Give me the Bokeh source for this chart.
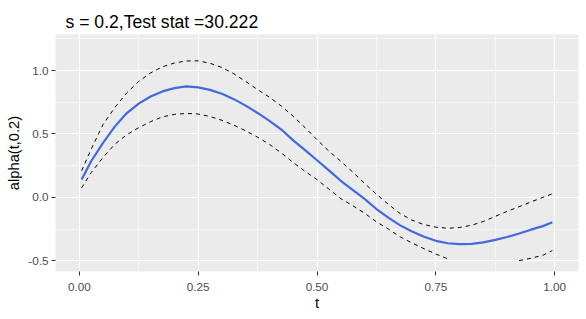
import math
from bokeh.plotting import figure
from bokeh.models import FixedTicker, Range1d, ColumnDataSource
from bokeh.embed import file_html
from bokeh.resources import INLINE

NaN = float("nan")

# ---- data ----
t = [0.005, 0.025, 0.05, 0.075, 0.1, 0.125, 0.15, 0.175, 0.2, 0.225,
     0.25, 0.275, 0.3, 0.325, 0.35, 0.375, 0.4, 0.425, 0.45, 0.475,
     0.5, 0.525, 0.55, 0.575, 0.6, 0.625, 0.65, 0.675, 0.7, 0.725,
     0.75, 0.775, 0.8, 0.825, 0.85, 0.875, 0.9, 0.925, 0.95, 0.975, 0.995]

alpha_hat = [0.14, 0.285, 0.43, 0.56, 0.665, 0.74, 0.796, 0.836, 0.862, 0.875,
             0.868, 0.848, 0.818, 0.775, 0.724, 0.666, 0.603, 0.535, 0.45, 0.372,
             0.293, 0.213, 0.131, 0.06, -0.012, -0.092, -0.16, -0.221, -0.27, -0.311,
             -0.343, -0.362, -0.369, -0.367, -0.355, -0.336, -0.313, -0.285, -0.255, -0.227, -0.197]

upper = [0.21, 0.38, 0.575, 0.71, 0.825, 0.915, 0.982, 1.03, 1.06, 1.076,
         1.077, 1.058, 1.025, 0.975, 0.915, 0.85, 0.79, 0.72, 0.64, 0.55,
         0.455, 0.365, 0.285, 0.2, 0.11, 0.025, -0.055, -0.128, -0.18, -0.215,
         -0.235, -0.244, -0.238, -0.22, -0.19, -0.15, -0.11, -0.074, -0.036, 0.0, 0.028]

# values below the y limit (-0.5) were dropped in the original chart
lower = [0.075, 0.195, 0.315, 0.42, 0.495, 0.55, 0.597, 0.635, 0.655, 0.662,
         0.658, 0.638, 0.608, 0.57, 0.525, 0.475, 0.418, 0.35, 0.275, 0.205,
         0.14, 0.065, -0.01, -0.065, -0.125, -0.193, -0.25, -0.312, -0.36, -0.405,
         -0.447, -0.485, NaN, NaN, NaN, NaN, NaN, -0.499, -0.48, -0.457, -0.42]

x_ticks = [0.0, 0.25, 0.5, 0.75, 1.0]
x_tick_labels = ["0.00", "0.25", "0.50", "0.75", "1.00"]
x_minor = [0.125, 0.375, 0.625, 0.875]
y_ticks = [-0.5, 0.0, 0.5, 1.0]
y_tick_labels = ["-0.5", "0.0", "0.5", "1.0"]
y_minor = [-0.25, 0.25, 0.75, 1.25]

title_text = "s = 0.2,Test stat =30.222"
x_label = "t"
y_label = "alpha(t,0.2)"

x_lim = (-0.05, 1.05)
y_lim = (-0.585, 1.285)

src = ColumnDataSource(dict(t=t, a=alpha_hat, up=upper, lo=lower))

FONT = "Liberation Sans"

p = figure(width=586, height=319, output_backend="svg", toolbar_location=None,
           x_range=Range1d(*x_lim), y_range=Range1d(*y_lim),
           title=title_text,
           min_border_left=55, min_border_right=8, min_border_top=34, min_border_bottom=48)

p.title.text_font = FONT
p.title.text_font_size = "17.6px"
p.title.text_font_style = "normal"
p.title.text_color = "black"
p.title.standoff = 6
p.title.offset = 10

p.background_fill_color = "#EBEBEB"
p.border_fill_color = "white"
p.outline_line_color = None

p.line("t", "up", source=src, line_color="black", line_width=1, line_dash="4 4")
p.line("t", "lo", source=src, line_color="black", line_width=1, line_dash="4 4")
p.line("t", "a", source=src, line_color="#4169E1", line_width=2.2)

p.xaxis.ticker = FixedTicker(ticks=x_ticks, minor_ticks=x_minor)
p.yaxis.ticker = FixedTicker(ticks=y_ticks, minor_ticks=y_minor)
p.xaxis.major_label_overrides = {v: s for v, s in zip(x_ticks, x_tick_labels)}
p.yaxis.major_label_overrides = {v: s for v, s in zip(y_ticks, y_tick_labels)}

p.xaxis.axis_label = x_label
p.yaxis.axis_label = y_label

for ax in (p.xaxis, p.yaxis):
    ax.axis_line_color = None
    ax.major_tick_line_color = "#333333"
    ax.major_tick_line_width = 1
    ax.major_tick_out = 4
    ax.major_tick_in = 0
    ax.minor_tick_line_color = None
    ax.major_label_text_font = FONT
    ax.major_label_text_font_size = "11.7px"
    ax.major_label_text_color = "#4D4D4D"
    ax.axis_label_text_font = FONT
    ax.axis_label_text_font_size = "14.7px"
    ax.axis_label_text_font_style = "normal"
    ax.axis_label_text_color = "black"

p.xaxis.major_label_standoff = 7
p.yaxis.major_label_standoff = 3
p.xaxis.axis_label_standoff = 1
p.yaxis.axis_label_standoff = 3

p.xgrid.grid_line_color = "white"
p.ygrid.grid_line_color = "white"
p.xgrid.grid_line_width = 1.1
p.ygrid.grid_line_width = 1.1
p.xgrid.minor_grid_line_color = "white"
p.ygrid.minor_grid_line_color = "white"
p.xgrid.minor_grid_line_width = 0.55
p.ygrid.minor_grid_line_width = 0.55

open("out.html", "w").write(file_html(p, INLINE))
